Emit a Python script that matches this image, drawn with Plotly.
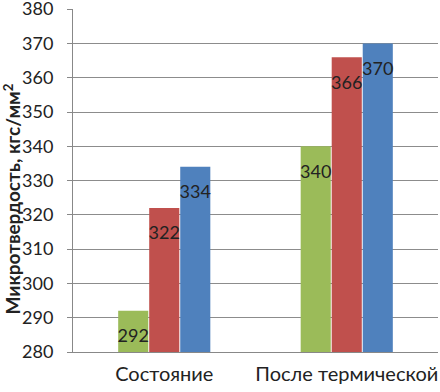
import plotly.graph_objects as go

categories = ["Состояние", "После термической"]
series_names = ["Серия 1", "Серия 2", "Серия 3"]
green_vals = [292, 340]
red_vals = [322, 366]
blue_vals = [334, 370]
y_ticks = [280, 290, 300, 310, 320, 330, 340, 350, 360, 370, 380]
y_title = "<b>Микротвердость, кгс/мм<sup>2</sup></b>"

colors = ["#9BBB59", "#C0504D", "#4F81BD"]
FONT = "Lato, 'Noto Sans', sans-serif"

fig = go.Figure()
for i, (name, vals) in enumerate(zip(series_names, [green_vals, red_vals, blue_vals])):
    fig.add_trace(go.Bar(
        x=categories, y=vals, name=name, marker_color=colors[i],
        marker_line_width=0, offsetgroup=str(i),
    ))
for i, (name, vals) in enumerate(zip(series_names, [green_vals, red_vals, blue_vals])):
    fig.add_trace(go.Scatter(
        x=categories, y=vals, mode="markers+text", text=[str(v) for v in vals],
        textposition="bottom center", offsetgroup=str(i),
        marker=dict(size=27, opacity=0), textfont=dict(family=FONT, size=18, color="#222222"),
        showlegend=False, hoverinfo="skip", cliponaxis=False,
    ))

fig.add_annotation(
    text=y_title, textangle=-90, xref="paper", yref="paper", x=0, y=0.5,
    xanchor="center", yanchor="middle", xshift=-61, yshift=-19, showarrow=False,
    font=dict(family=FONT, size=19, color="#222222"),
)

fig.update_layout(
    width=440, height=392,
    margin=dict(l=73, r=2, t=9, b=40, autoexpand=False),
    barmode="group", bargap=0.49, bargroupgap=0.03,
    scattermode="group", scattergap=0.49,
    plot_bgcolor="white", paper_bgcolor="white",
    showlegend=False,
    font=dict(family=FONT, size=18, color="#222222"),
)
fig.update_xaxes(
    range=[-0.5, 1.5], showline=True, linecolor="#888888", linewidth=1,
    showgrid=False, tickfont=dict(size=20, family=FONT), ticks="",
    automargin=False, ticklabelstandoff=4, ticklabeloverflow="allow",
)
fig.update_yaxes(
    range=[280, 380.05], tickvals=y_ticks, showline=True, linecolor="#888888", linewidth=1,
    showgrid=True, gridcolor="#8c8c8c", gridwidth=1, ticks="outside", ticklen=5,
    tickcolor="#888888", tickfont=dict(size=18, family=FONT), ticklabelstandoff=10,
    automargin=False, ticklabeloverflow="allow", zeroline=False,
)
fig.write_html("out.html", config={"displayModeBar": False},
               post_script="document.body.style.margin='0';")
